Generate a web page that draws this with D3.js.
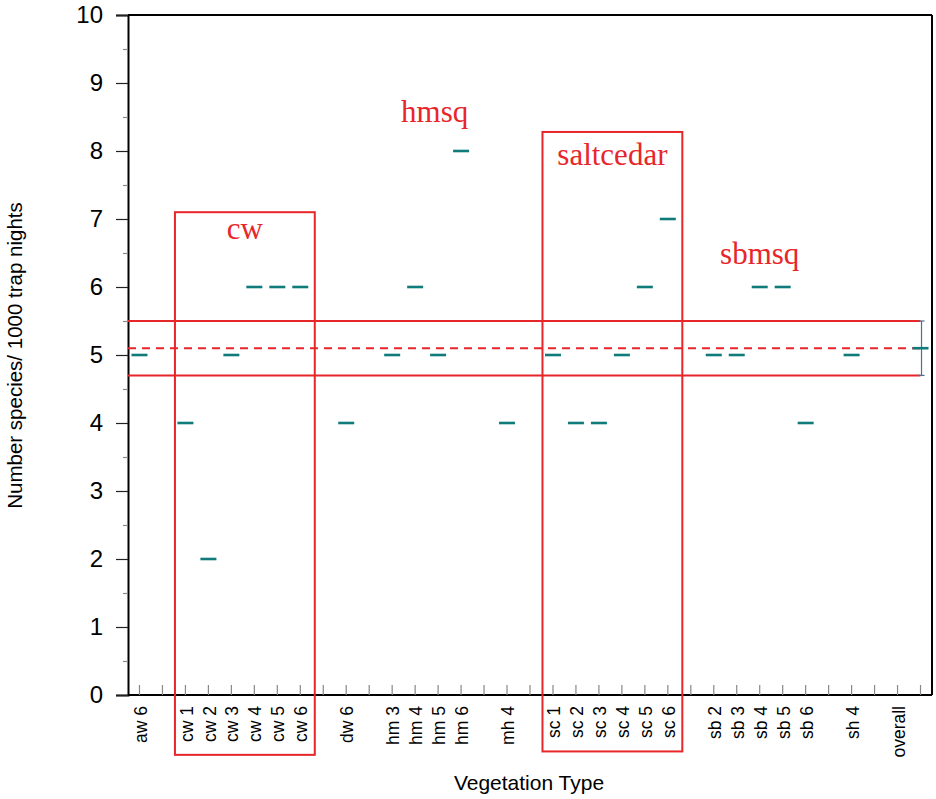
<!DOCTYPE html>
<html>
<head>
<meta charset="utf-8">
<script src="https://cdn.jsdelivr.net/npm/d3@7/dist/d3.min.js"></script>
<style>
  html, body { margin: 0; padding: 0; background: #fff; }
  svg { display: block; }
</style>
</head>
<body>
<svg id="chart" width="936" height="799"></svg>
<script>
// ---- data ----
const slots = d3.range(35);
const tickLabels = ["aw 6", "", "cw 1", "cw 2", "cw 3", "cw 4", "cw 5", "cw 6", "", "dw 6", "",
  "hm 3", "hm 4", "hm 5", "hm 6", "", "mh 4", "", "sc 1", "sc 2", "sc 3", "sc 4", "sc 5", "sc 6", "",
  "sb 2", "sb 3", "sb 4", "sb 5", "sb 6", "", "sh 4", "", "overall", ""];
const values = [5, null, 4, 2, 5, 6, 6, 6, null, 4, null,
  5, 6, 5, 8, null, 4, null, 5, 4, 4, 5, 6, 7, null,
  5, 5, 6, 6, 4, null, 5, null, null, 5.1];
const overallSlot = 34;
const overallMean = 5.1;
const overallLow = 4.7;
const overallHigh = 5.5;
const yTicks = [0, 1, 2, 3, 4, 5, 6, 7, 8, 9, 10];
const yMinorTicks = [0.5, 1.5, 2.5, 3.5, 4.5, 5.5, 6.5, 7.5, 8.5, 9.5];
const groupBoxes = [
  { name: "cw", from: 2, to: 7, top: 7.1, bottom: -0.88, labelY: 6.7 },
  { name: "saltcedar", from: 18, to: 23, top: 8.28, bottom: -0.83, labelY: 7.8 }
];
const groupLabels = [
  { name: "hmsq", slot: 12.85, y: 8.42 },
  { name: "sbmsq", slot: 27.0, y: 6.34 }
];

// ---- layout ----
const svg = d3.select("#chart");
const margin = { left: 128, top: 15, right: 4, bottom: 104 };
const W = 936, H = 799;
const x0 = margin.left, x1 = W - margin.right;
const y0 = H - margin.bottom, y1 = margin.top;

const x = d3.scaleBand().domain(slots).range([x0, x1]).padding(0);
const xc = i => x(i) + x.bandwidth() / 2;
const xl = v => x0 + v * x.bandwidth(); // continuous slot coordinate
const y = d3.scaleLinear().domain([0, 10]).range([y0, y1]);

const red = "#e8262a";
const teal = "#0f7c7b";

// frame (top and right)
svg.append("line").attr("x1", x0).attr("x2", x1).attr("y1", y1).attr("y2", y1)
  .attr("stroke", "#000").attr("stroke-width", 2);
svg.append("line").attr("x1", x1).attr("x2", x1).attr("y1", y1).attr("y2", y0)
  .attr("stroke", "#000").attr("stroke-width", 2);

// y axis
const yAxis = svg.append("g").attr("transform", `translate(${x0},0)`)
  .call(d3.axisLeft(y).tickValues(yTicks).tickSize(12).tickPadding(13).tickFormat(d3.format("d")));
yAxis.select(".domain").attr("stroke", "#000").attr("stroke-width", 2);
yAxis.selectAll(".tick line").attr("stroke", "#222").attr("stroke-width", 1.2);
yAxis.selectAll(".tick text").attr("font-family", "Arial, 'Liberation Sans', sans-serif")
  .attr("font-size", 24).attr("fill", "#000");
svg.append("g").attr("transform", `translate(${x0},0)`)
  .call(d3.axisLeft(y).tickValues(yMinorTicks).tickSize(5).tickFormat(""))
  .call(g => g.select(".domain").remove())
  .selectAll(".tick line").attr("stroke", "#888").attr("stroke-width", 1.2);

// x axis
const xAxis = svg.append("g").attr("transform", `translate(0,${y0})`)
  .call(d3.axisBottom(x).tickSize(-10).tickFormat(""));
xAxis.select(".domain").attr("stroke", "#000").attr("stroke-width", 2)
  .attr("d", `M${x0},0H${x1}`);
xAxis.selectAll(".tick line").attr("stroke", "#888").attr("stroke-width", 1.2);

svg.append("g").selectAll("text").data(slots.filter(i => tickLabels[i] !== ""))
  .join("text")
  .attr("transform", i => `translate(${xc(i) + 1},${y0 + 11}) rotate(-90)`)
  .attr("text-anchor", "end").attr("dy", "0.35em")
  .attr("font-family", "Arial, 'Liberation Sans', sans-serif").attr("font-size", 17.5)
  .attr("fill", "#000")
  .text(i => tickLabels[i]);

// axis titles
svg.append("text").attr("x", 529).attr("y", 790).attr("text-anchor", "middle")
  .attr("font-family", "Arial, 'Liberation Sans', sans-serif").attr("font-size", 21)
  .attr("fill", "#000").text("Vegetation Type");
svg.append("text").attr("transform", `translate(22,355.5) rotate(-90)`).attr("text-anchor", "middle")
  .attr("font-family", "Arial, 'Liberation Sans', sans-serif").attr("font-size", 20.5)
  .attr("fill", "#000").text("Number species/ 1000 trap nights");

// overall band
[overallHigh, overallLow].forEach(v => {
  svg.append("line").attr("x1", x0).attr("x2", xc(overallSlot)).attr("y1", y(v)).attr("y2", y(v))
    .attr("stroke", red).attr("stroke-width", 2);
});
svg.append("line").attr("x1", x0).attr("x2", xc(overallSlot)).attr("y1", y(overallMean)).attr("y2", y(overallMean))
  .attr("stroke", red).attr("stroke-width", 2).attr("stroke-dasharray", "8,6");

// group boxes
groupBoxes.forEach(b => {
  const bx0 = xl(b.from) + 1, bx1 = xl(b.to + 1) + 3;
  svg.append("rect").attr("x", bx0).attr("y", y(b.top))
    .attr("width", bx1 - bx0).attr("height", y(b.bottom) - y(b.top))
    .attr("fill", "none").attr("stroke", red).attr("stroke-width", 2);
  svg.append("text").attr("x", (bx0 + bx1) / 2).attr("y", y(b.labelY))
    .attr("text-anchor", "middle").attr("font-family", "'Times New Roman', 'Liberation Serif', serif")
    .attr("font-size", 31).attr("fill", red).text(b.name);
});
groupLabels.forEach(l => {
  svg.append("text").attr("x", xl(l.slot + 0.5)).attr("y", y(l.y))
    .attr("text-anchor", "middle").attr("font-family", "'Times New Roman', 'Liberation Serif', serif")
    .attr("font-size", 31).attr("fill", red).text(l.name);
});

// error bar for overall
const eb = svg.append("g").attr("stroke", "#4f6f8f").attr("stroke-width", 1.2);
eb.append("line").attr("x1", xc(overallSlot) + 1).attr("x2", xc(overallSlot) + 1)
  .attr("y1", y(overallHigh)).attr("y2", y(overallLow));
[overallHigh, overallLow].forEach(v => {
  eb.append("line").attr("x1", xc(overallSlot) - 2).attr("x2", xc(overallSlot) + 4)
    .attr("y1", y(v)).attr("y2", y(v));
});

// markers
svg.append("g").selectAll("line").data(slots.filter(i => values[i] !== null))
  .join("line")
  .attr("x1", i => xc(i) - 8).attr("x2", i => xc(i) + 8)
  .attr("y1", i => y(values[i])).attr("y2", i => y(values[i]))
  .attr("stroke", teal).attr("stroke-width", 2.6);
</script>
</body>
</html>
